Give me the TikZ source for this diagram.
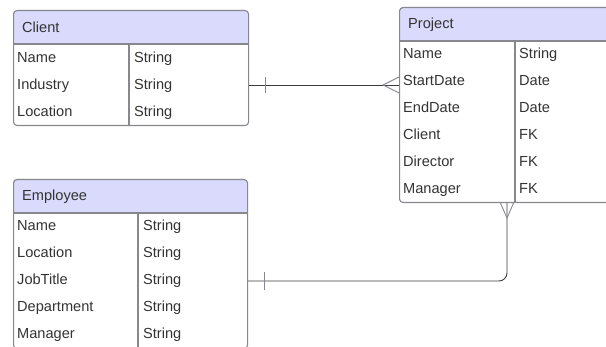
\documentclass[tikz,border=0pt]{standalone}
\usepackage{fontspec}
\setmainfont{Liberation Sans}
\definecolor{headfill}{RGB}{218,218,252}
\definecolor{boxline}{RGB}{135,135,142}
\definecolor{txt}{RGB}{51,51,51}
\definecolor{conline}{RGB}{60,60,60}
\tikzset{
  entity/.style={draw=boxline, line width=1.1pt, rounded corners=3.5pt, rectangle, anchor=north west, inner sep=0pt},
  hdr/.style={fill=headfill},
  sep/.style={draw=boxline, line width=1.1pt},
  cell/.style={anchor=west, inner sep=0pt, text height=11pt, text depth=3pt, yshift=-1.3pt, text=txt, font=\fontsize{14.6}{16}\selectfont},
  conn/.style={draw=conline, line width=0.9pt},
  crow/.style={draw=boxline, line width=0.9pt},
}
\begin{document}
\begin{tikzpicture}[x=1pt,y=-1pt]
\useasboundingbox (0,0) rectangle (606,347);
\clip (0,0) rectangle (606,347);

% ---------- Client ----------
\fill[hdr] (13,44) {[rounded corners=3.5pt] -- (13,10) -- (248,10)} -- (248,44) -- cycle;
\node[entity, minimum width=235pt, minimum height=115pt] (client) at (13,10) {};
\draw[sep] (13,44) -- (248,44);
\draw[sep] (129,44) -- (129,125);
\node[cell] (clientT) at (22,27) {Client};
\node[cell] (cn1) at (17,57) {Name};
\node[cell] (cn2) at (17,84) {Industry};
\node[cell] (cn3) at (17,111) {Location};
\node[cell] (ct1) at (134,57) {String};
\node[cell] (ct2) at (134,84) {String};
\node[cell] (ct3) at (134,111) {String};

% ---------- Project ----------
\fill[hdr] (399,41) {[rounded corners=3.5pt] -- (399,7) -- (650,7)} -- (650,41) -- cycle;
\node[entity, minimum width=251pt, minimum height=195pt] (project) at (399,7) {};
\draw[sep] (399,41) -- (650,41);
\draw[sep] (515,41) -- (515,202);
\node[cell] (projT) at (408,23) {Project};
\node[cell] (pn1) at (403,53) {Name};
\node[cell] (pn2) at (403,80) {StartDate};
\node[cell] (pn3) at (403,107) {EndDate};
\node[cell] (pn4) at (403,134) {Client};
\node[cell] (pn5) at (403,161) {Director};
\node[cell] (pn6) at (403,188) {Manager};
\node[cell] (pt1) at (519,53) {String};
\node[cell] (pt2) at (519,80) {Date};
\node[cell] (pt3) at (519,107) {Date};
\node[cell] (pt4) at (519,134) {FK};
\node[cell] (pt5) at (519,161) {FK};
\node[cell] (pt6) at (519,188) {FK};

% ---------- Employee ----------
\fill[hdr] (13,213) {[rounded corners=3.5pt] -- (13,179) -- (247,179)} -- (247,213) -- cycle;
\node[entity, minimum width=234pt, minimum height=169pt] (employee) at (13,179) {};
\draw[sep] (13,213) -- (247,213);
\draw[sep] (138,213) -- (138,348);
\node[cell] (empT) at (22,195) {Employee};
\node[cell] (en1) at (17,225) {Name};
\node[cell] (en2) at (17,252) {Location};
\node[cell] (en3) at (17,279) {JobTitle};
\node[cell] (en4) at (17,306) {Department};
\node[cell] (en5) at (17,333) {Manager};
\node[cell] (et1) at (143,225) {String};
\node[cell] (et2) at (143,252) {String};
\node[cell] (et3) at (143,279) {String};
\node[cell] (et4) at (143,306) {String};
\node[cell] (et5) at (143,333) {String};

% ---------- Connectors ----------
\coordinate (r1) at (0,85);
\coordinate (r2) at (0,281);
\coordinate (v2) at (507,0);
\coordinate (apex1) at (383,85);
\coordinate (apex2) at (507,218);

% Client -- Project
\draw[conn] (client.east |- r1) -- (project.west |- r1);
\draw[crow] (265,77) -- (265,93);
\draw[crow] (project.west |- 0,77) -- (apex1) -- (project.west |- 0,93);

% Employee -- Project
\draw[conn, rounded corners=8pt] (employee.east |- r2) -- (v2 |- r2) -- (v2 |- project.south);
\draw[crow] (264,272) -- (264,290);
\draw[crow] (500,202) -- (apex2) -- (514,202);
\end{tikzpicture}
\end{document}
